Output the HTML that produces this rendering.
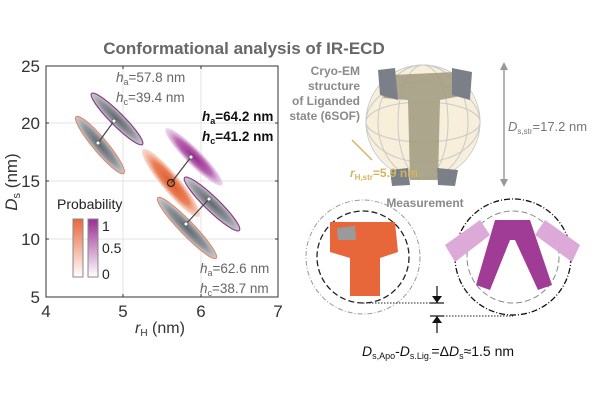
<!DOCTYPE html>
<html><head><meta charset="utf-8"><style>body{margin:0;background:#fff}svg{display:block}text{font-family:"Liberation Sans",sans-serif}</style></head>
<body>
<svg width="600" height="400" viewBox="0 0 600 400" xmlns="http://www.w3.org/2000/svg">
<defs>
<radialGradient id="go"><stop offset="0" stop-color="#e05a2a"/><stop offset="0.6" stop-color="#ea8058"/><stop offset="1" stop-color="#f6c6b2" stop-opacity="0.6"/></radialGradient>
<radialGradient id="gp"><stop offset="0" stop-color="#952a8e"/><stop offset="0.6" stop-color="#b866b2"/><stop offset="1" stop-color="#e5c4e2" stop-opacity="0.6"/></radialGradient>
<radialGradient id="gg"><stop offset="0" stop-color="#62686f"/><stop offset="0.6" stop-color="#8c9197"/><stop offset="1" stop-color="#c9cccf"/></radialGradient>
<linearGradient id="lo" x1="0" y1="1" x2="0" y2="0"><stop offset="0" stop-color="#fff"/><stop offset="1" stop-color="#e8673a"/></linearGradient>
<linearGradient id="lp" x1="0" y1="1" x2="0" y2="0"><stop offset="0" stop-color="#fff"/><stop offset="1" stop-color="#9b2d93"/></linearGradient>
</defs>
<text x="244" y="54" font-size="17" font-weight="bold" fill="#676767" text-anchor="middle">Conformational analysis of IR-ECD</text>
<g stroke="#e3e3e3" stroke-width="1"><line x1="123" y1="66" x2="123" y2="297"/><line x1="201" y1="66" x2="201" y2="297"/><line x1="46" y1="239" x2="278" y2="239"/><line x1="46" y1="181" x2="278" y2="181"/><line x1="46" y1="123" x2="278" y2="123"/></g>
<rect x="46" y="66" width="232" height="231" fill="none" stroke="#333" stroke-width="1"/>
<g stroke="#333"><line x1="123" y1="297" x2="123" y2="294"/><line x1="201" y1="297" x2="201" y2="294"/><line x1="46" y1="239" x2="49" y2="239"/><line x1="46" y1="181" x2="49" y2="181"/><line x1="46" y1="123" x2="49" y2="123"/><line x1="123" y1="66" x2="123" y2="69"/><line x1="201" y1="66" x2="201" y2="69"/><line x1="278" y1="239" x2="275" y2="239"/><line x1="278" y1="181" x2="275" y2="181"/><line x1="278" y1="123" x2="275" y2="123"/></g>
<g font-size="17" fill="#333"><text x="46" y="317" text-anchor="middle">4</text><text x="123" y="317" text-anchor="middle">5</text><text x="201" y="317" text-anchor="middle">6</text><text x="278" y="317" text-anchor="middle">7</text>
<text x="40" y="303" text-anchor="end">5</text><text x="40" y="245" text-anchor="end">10</text><text x="40" y="187" text-anchor="end">15</text><text x="40" y="129" text-anchor="end">20</text><text x="40" y="72" text-anchor="end">25</text></g>
<text x="160" y="333" font-size="16" fill="#333" text-anchor="middle"><tspan font-style="italic">r</tspan><tspan font-size="10" dy="3">H</tspan><tspan dy="-3"> (nm)</tspan></text>
<text transform="translate(17,182) rotate(-90)" font-size="17" fill="#333" text-anchor="middle"><tspan font-style="italic">D</tspan><tspan font-size="11" dy="3">s</tspan><tspan dy="-3"> (nm)</tspan></text>
<ellipse cx="100" cy="145" rx="37" ry="7" transform="rotate(50 100 145)" fill="url(#gg)" stroke="#e0896a" stroke-width="1.2"/>
<ellipse cx="117" cy="119" rx="36" ry="6.5" transform="rotate(45 117 119)" fill="url(#gg)" stroke="#8e3a8a" stroke-width="1.2"/>
<ellipse cx="171" cy="183" rx="44" ry="9" transform="rotate(50 171 183)" fill="url(#go)"/>
<ellipse cx="194" cy="157" rx="40" ry="8" transform="rotate(45 194 157)" fill="url(#gp)"/>
<ellipse cx="212" cy="204" rx="38" ry="7" transform="rotate(44 212 204)" fill="url(#gg)" stroke="#8e3a8a" stroke-width="1.2"/>
<ellipse cx="187" cy="228" rx="42" ry="7" transform="rotate(46 187 228)" fill="url(#gg)" stroke="#e0896a" stroke-width="1.2"/>
<g stroke="#444" stroke-width="1.2" fill="none"><line x1="98" y1="143" x2="114" y2="121"/><line x1="171" y1="183" x2="191" y2="157"/><line x1="186" y1="224" x2="209" y2="199"/><circle cx="171" cy="183" r="3.5" stroke="#222"/></g>
<g fill="#fff" stroke="#555" stroke-width="0.8"><circle cx="98" cy="143" r="2"/><circle cx="114" cy="121" r="2"/><circle cx="191" cy="157" r="2"/><circle cx="186" cy="224" r="2"/><circle cx="209" cy="199" r="2"/></g>
<g font-size="13.5" fill="#666"><text x="116" y="82"><tspan font-style="italic">h</tspan><tspan font-size="9" dy="3">a</tspan><tspan dy="-3">=57.8 nm</tspan></text>
<text x="116" y="102"><tspan font-style="italic">h</tspan><tspan font-size="9" dy="3">c</tspan><tspan dy="-3">=39.4 nm</tspan></text>
<text x="200" y="273"><tspan font-style="italic">h</tspan><tspan font-size="9" dy="3">a</tspan><tspan dy="-3">=62.6 nm</tspan></text>
<text x="200" y="293"><tspan font-style="italic">h</tspan><tspan font-size="9" dy="3">c</tspan><tspan dy="-3">=38.7 nm</tspan></text></g>
<g font-size="13.5" font-weight="bold" fill="#111"><text x="202" y="121"><tspan font-style="italic">h</tspan><tspan font-size="9" dy="3">a</tspan><tspan dy="-3">=64.2 nm</tspan></text>
<text x="202" y="141"><tspan font-style="italic">h</tspan><tspan font-size="9" dy="3">c</tspan><tspan dy="-3">=41.2 nm</tspan></text></g>
<text x="57" y="209" font-size="14" fill="#222">Probability</text>
<rect x="73" y="219" width="10" height="58" fill="url(#lo)" stroke="#888"/>
<rect x="88" y="219" width="10" height="58" fill="url(#lp)" stroke="#888"/>
<g font-size="14" fill="#222"><text x="102" y="231">1</text><text x="102" y="253">0.5</text><text x="102" y="279">0</text></g>
<g font-size="12" font-weight="bold" fill="#8a8a8a" text-anchor="end"><text x="360" y="75">Cryo-EM</text><text x="360" y="90">structure</text><text x="360" y="105">of Liganded</text><text x="360" y="120">state (6SOF)</text></g>
<circle cx="423" cy="122" r="56" fill="#f2e4c0" opacity="0.6"/>
<g fill="none" stroke="#c9c9c9" stroke-width="1"><circle cx="423" cy="122" r="57"/><ellipse cx="423" cy="122" rx="25" ry="57"/><ellipse cx="423" cy="122" rx="45" ry="57"/><ellipse cx="423" cy="122" rx="57" ry="20"/><ellipse cx="423" cy="122" rx="57" ry="40"/></g>
<path d="M392 75 L455 72 L466 95 L440 100 L438 180 L410 180 L408 100 L383 98 Z" fill="#a39d84" opacity="0.9"/>
<path d="M378 70 L395 68 L398 100 L380 95 Z M452 68 L472 72 L470 100 L452 95 Z M390 170 L408 168 L410 185 L392 186 Z M437 168 L458 170 L455 186 L438 185 Z" fill="#7b8088"/>
<line x1="352" y1="140" x2="372" y2="160" stroke="#d4b55e" stroke-width="1.5"/>
<text x="350" y="177" font-size="12" font-weight="bold" fill="#d4b55e"><tspan font-style="italic">r</tspan><tspan font-size="8" dy="3">H,str</tspan><tspan dy="-3">=5.9 nm</tspan></text>
<line x1="504" y1="66" x2="504" y2="183" stroke="#999" stroke-width="1.5"/>
<path d="M500 70 L504 62 L508 70 Z M500 179 L504 187 L508 179 Z" fill="#999"/>
<text x="508" y="131" font-size="13" fill="#777"><tspan font-style="italic">D</tspan><tspan font-size="8" dy="3">s,str</tspan><tspan dy="-3">=17.2 nm</tspan></text>
<text x="425" y="207" font-size="12" font-weight="bold" fill="#8a8a8a" text-anchor="middle">Measurement</text>
<circle cx="363" cy="257" r="57" fill="none" stroke="#999" stroke-dasharray="5 2 1 2"/>
<circle cx="363" cy="257" r="46" fill="none" stroke="#222" stroke-width="1.3" stroke-dasharray="6 3"/>
<path d="M330 222 L395 222 L398 252 L380 258 L380 296 L350 296 L350 258 L330 252 Z" fill="#e8673a"/>
<path d="M337 228 L355 226 L356 240 L338 240 Z" fill="#9a9a9a"/>
<circle cx="513" cy="257" r="58" fill="none" stroke="#111" stroke-width="1.3" stroke-dasharray="6 2 1 2"/>
<circle cx="513" cy="257" r="46" fill="none" stroke="#888" stroke-dasharray="6 3"/>
<path d="M445 245 L480 220 L490 235 L455 262 Z M545 220 L580 245 L572 262 L535 235 Z" fill="#dca9d8"/>
<path d="M495 220 L530 220 L552 285 L538 290 L515 240 L510 240 L490 290 L476 285 Z" fill="#a03b96"/>
<g stroke="#222" stroke-dasharray="1.5 1.5"><line x1="363" y1="303" x2="437" y2="303"/><line x1="437" y1="316" x2="513" y2="316"/></g>
<g stroke="#111" stroke-width="1.2"><line x1="437" y1="286" x2="437" y2="303"/><line x1="437" y1="316" x2="437" y2="333"/><line x1="430" y1="303" x2="444" y2="303"/><line x1="430" y1="316" x2="444" y2="316"/></g>
<path d="M432 296 L442 296 L437 303 Z M432 323 L442 323 L437 316 Z" fill="#111"/>
<text x="438" y="356" font-size="14" fill="#111" text-anchor="middle"><tspan font-style="italic">D</tspan><tspan font-size="9" dy="3">s,Apo</tspan><tspan dy="-3">-</tspan><tspan font-style="italic">D</tspan><tspan font-size="9" dy="3">s.Lig.</tspan><tspan dy="-3">=Δ</tspan><tspan font-style="italic">D</tspan><tspan font-size="9" dy="3">s</tspan><tspan dy="-3">≈1.5 nm</tspan></text>
</svg>
</body></html>
